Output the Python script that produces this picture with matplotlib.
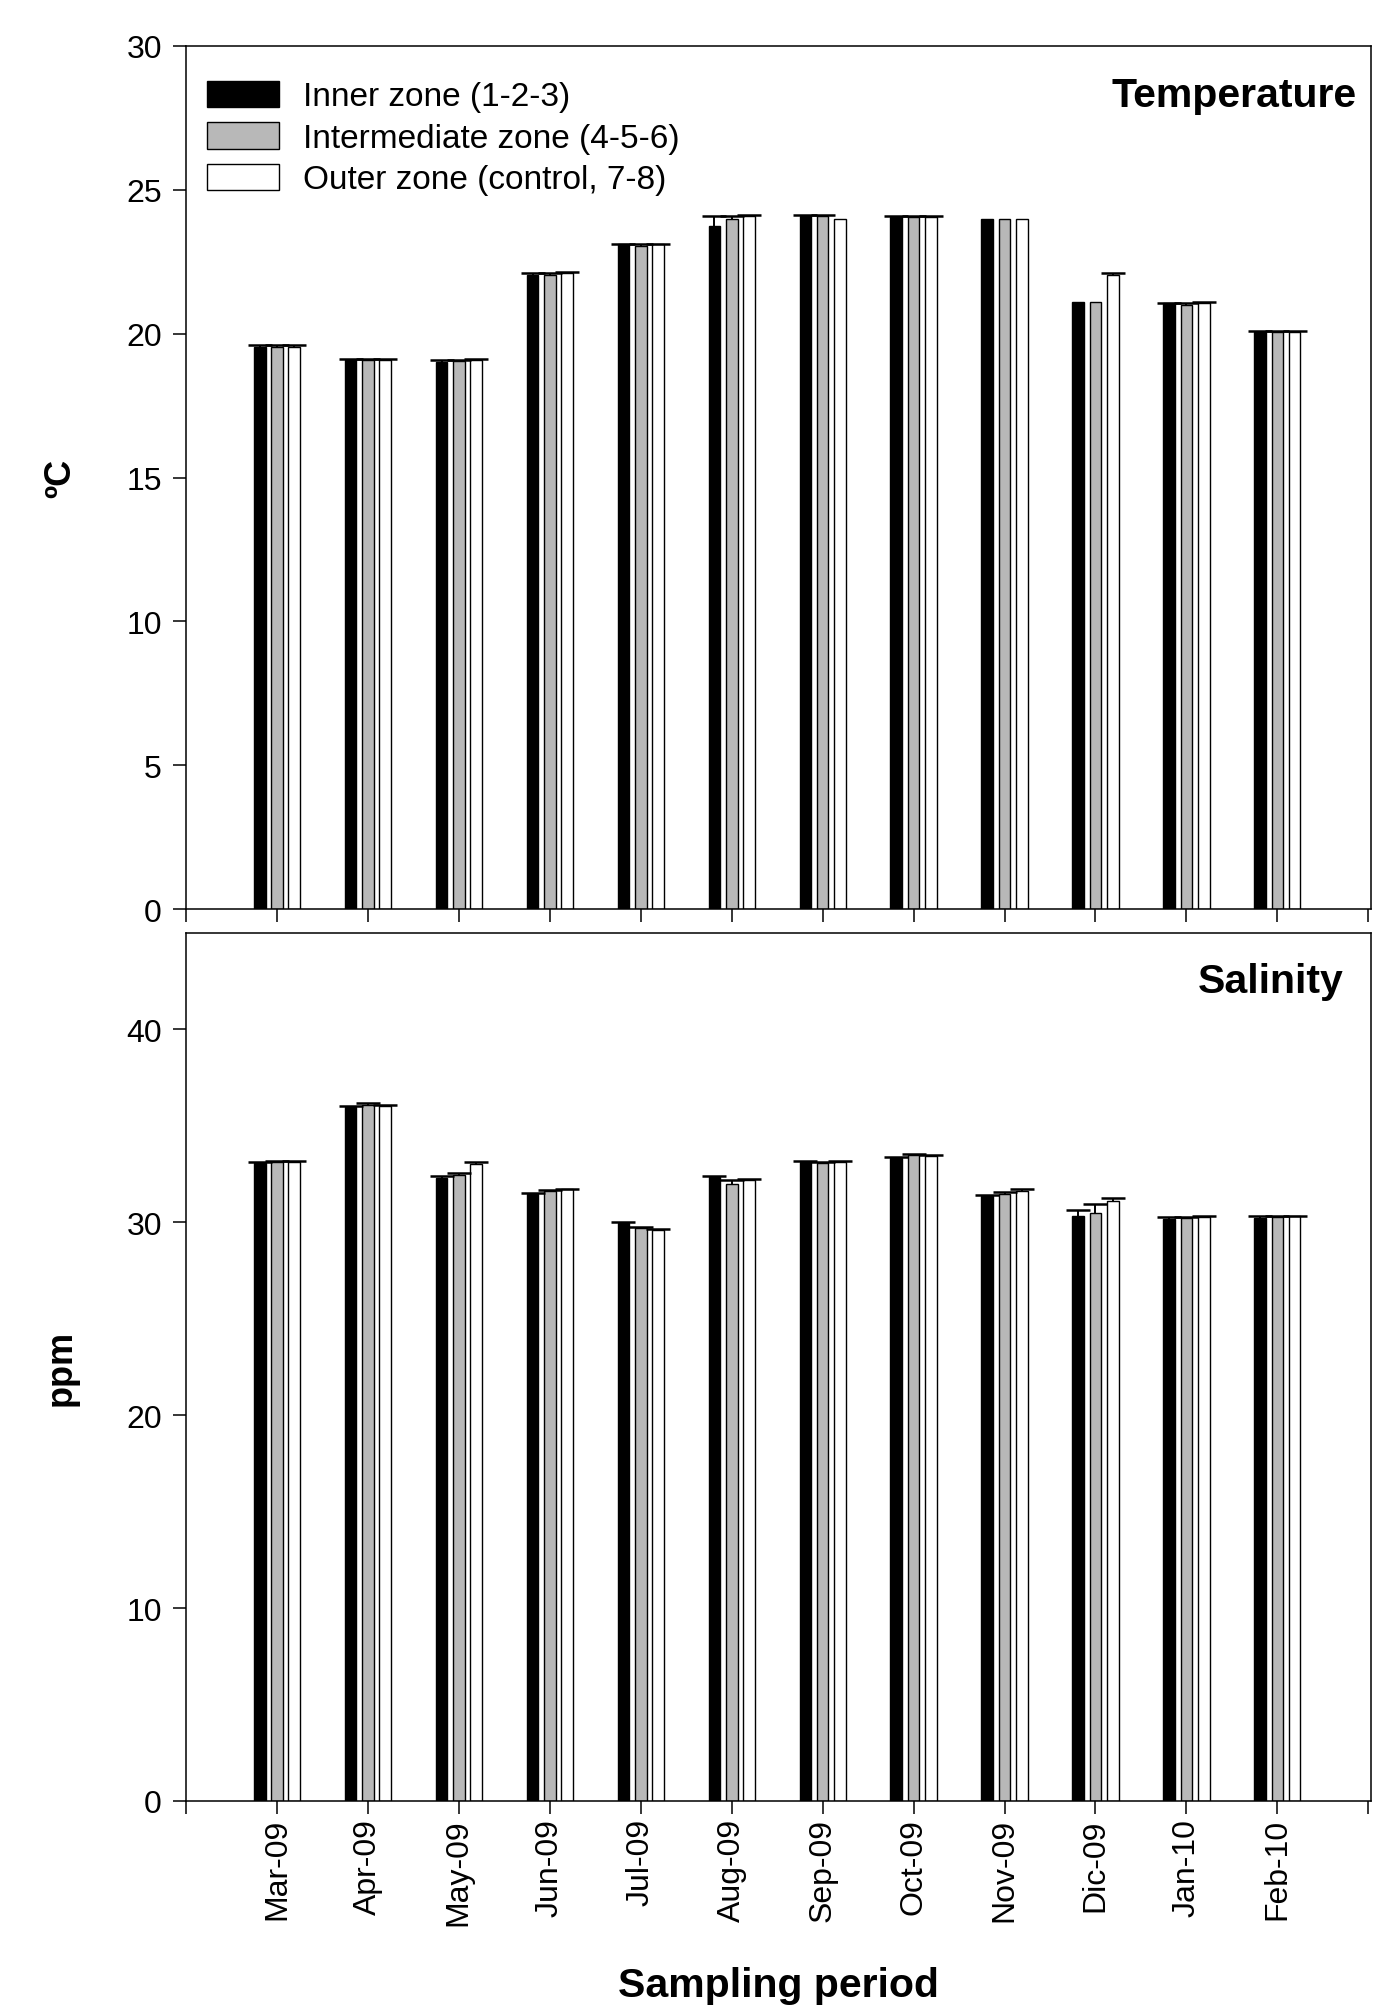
import matplotlib
matplotlib.use("Agg")
import matplotlib.pyplot as plt
import numpy as np

plt.rcParams["font.family"] = ["Liberation Sans", "DejaVu Sans"]

months = ["Mar-09", "Apr-09", "May-09", "Jun-09", "Jul-09", "Aug-09",
          "Sep-09", "Oct-09", "Nov-09", "Dic-09", "Jan-10", "Feb-10"]
zones = ["Inner zone (1-2-3)", "Intermediate zone (4-5-6)", "Outer zone (control, 7-8)"]

# temperature (ºC), mean and upper error per zone
temp_inner = [19.55, 19.1, 19.0, 22.05, 23.1, 23.75, 24.1, 24.05, 24.0, 21.1, 21.05, 20.05]
temp_mid = [19.55, 19.1, 19.05, 22.05, 23.05, 24.0, 24.1, 24.05, 24.0, 21.1, 21.0, 20.05]
temp_outer = [19.55, 19.1, 19.1, 22.1, 23.1, 24.1, 24.0, 24.05, 24.0, 22.05, 21.05, 20.05]
temp_inner_err = [0.05, 0.03, 0.1, 0.05, 0.03, 0.35, 0.03, 0.05, np.nan, np.nan, 0.03, 0.03]
temp_mid_err = [0.05, 0.03, 0.05, 0.05, 0.05, 0.1, 0.03, 0.05, np.nan, np.nan, 0.05, 0.03]
temp_outer_err = [0.05, 0.03, 0.03, 0.03, 0.03, 0.03, np.nan, 0.05, np.nan, 0.05, 0.05, 0.03]

# salinity (ppm)
sal_inner = [33.05, 35.95, 32.3, 31.45, 29.95, 32.35, 33.15, 33.35, 31.35, 30.35, 30.15, 30.2]
sal_mid = [33.15, 36.1, 32.45, 31.6, 29.7, 32.0, 33.05, 33.5, 31.45, 30.5, 30.2, 30.25]
sal_outer = [33.15, 36.05, 33.0, 31.7, 29.6, 32.2, 33.15, 33.45, 31.6, 31.1, 30.25, 30.3]
sal_inner_err = [0.1, 0.1, 0.1, 0.05, 0.05, 0.05, 0.05, 0.05, 0.05, 0.3, 0.1, 0.1]
sal_mid_err = [0.05, 0.1, 0.1, 0.05, 0.05, 0.2, 0.1, 0.05, 0.1, 0.45, 0.05, 0.05]
sal_outer_err = [0.05, 0.05, 0.1, 0.05, 0.05, 0.05, 0.05, 0.05, 0.1, 0.15, 0.05, 0.05]

colors = ["black", "#b8b8b8", "white"]
FS = 23


def draw_panel(ax, means, errs, title, ylabel, ymax, yticks):
    x = np.arange(1, len(months) + 1)
    offsets = [-0.19, 0.0, 0.19]
    for k in range(3):
        m = np.array(means[k])
        e = np.array(errs[k])
        ax.bar(x + offsets[k], m, width=0.128, color=colors[k],
               edgecolor="black", linewidth=1.0, label=zones[k], zorder=2)
        eb = ax.errorbar(x + offsets[k], m, yerr=[np.zeros_like(e), e],
                         fmt="none", ecolor="black", elinewidth=1.4,
                         capsize=8.6, capthick=1.8, zorder=3)
        eb[1][0].set_visible(False)  # keep only the upper caps
    ax.set_xlim(0, 13.03)
    ax.set_ylim(0, ymax)
    ax.set_yticks(yticks)
    ax.set_xticks(np.arange(0, 14))
    ax.tick_params(direction="out", length=9.4, width=1.1, labelsize=FS)
    ax.tick_params(axis="y", pad=8)
    ax.tick_params(axis="x", pad=3)
    for sp in ax.spines.values():
        sp.set_linewidth(1.1)
    ax.set_ylabel(ylabel, fontsize=26, fontweight="bold")
    ax.yaxis.set_label_coords(-0.091, 0.5)
    ax.text(title[1], title[2], title[0], transform=ax.transAxes,
            ha="right", va="baseline", fontsize=29.5, fontweight="bold")


fig = plt.figure(figsize=(13.76, 20.08), dpi=100)
ax1 = fig.add_axes([0.1352, 0.5468, 0.8612, 0.4298])
ax2 = fig.add_axes([0.1352, 0.1026, 0.8612, 0.4323])

draw_panel(ax1, [temp_inner, temp_mid, temp_outer],
           [temp_inner_err, temp_mid_err, temp_outer_err],
           ("Temperature", 0.988, 0.930), "ºC", 30, [0, 5, 10, 15, 20, 25, 30])
ax1.set_xticklabels([])

draw_panel(ax2, [sal_inner, sal_mid, sal_outer],
           [sal_inner_err, sal_mid_err, sal_outer_err],
           ("Salinity", 0.977, 0.932), "ppm", 45, [0, 10, 20, 30, 40])
ax2.set_xticklabels([""] + months + [""], rotation=90)
ax2.set_xlabel("Sampling period", fontsize=29.5, fontweight="bold")
ax2.xaxis.set_label_coords(0.5, -0.19)

ax1.legend(loc="upper left", bbox_to_anchor=(0.018, 0.96), borderaxespad=0,
           borderpad=0, frameon=False, fontsize=24, handlelength=2.15,
           handleheight=0.85, handletextpad=0.72, labelspacing=0.29)

fig.savefig("out.png", dpi=100)
